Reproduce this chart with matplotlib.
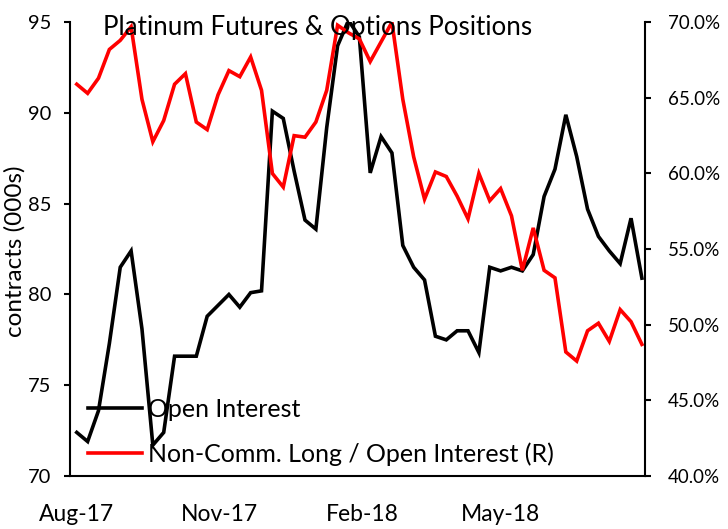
import pandas as pd
import matplotlib
matplotlib.use("Agg")
import matplotlib.pyplot as plt
import matplotlib.dates as mdates
from matplotlib.ticker import FuncFormatter

plt.rcParams['font.family'] = ['Lato', 'DejaVu Sans']

# weekly COT dates (Tuesdays)
dates = pd.date_range("2017-08-01", periods=53, freq="7D")

# open interest, contracts (000s)
open_interest = [
    72.4, 71.9, 73.6, 77.3, 81.5, 82.4, 78.1, 71.7, 72.4, 76.6,
    76.6, 76.6, 78.8, 79.4, 80.0, 79.3, 80.1, 80.2, 90.1, 89.7,
    86.8, 84.1, 83.6, 89.2, 93.7, 95.1, 94.2, 86.7, 88.7, 87.8,
    82.7, 81.5, 80.8, 77.7, 77.5, 78.0, 78.0, 76.8, 81.5, 81.3,
    81.5, 81.3, 82.2, 85.4, 86.9, 89.9, 87.6, 84.7, 83.2, 82.4,
    81.7, 84.2, 80.9,
]

# non-commercial long / open interest, %
nc_long_share = [
    65.9, 65.3, 66.3, 68.2, 68.8, 69.7, 64.9, 62.1, 63.5, 65.9,
    66.6, 63.4, 62.9, 65.2, 66.8, 66.4, 67.7, 65.5, 60.0, 59.1,
    62.5, 62.4, 63.4, 65.5, 69.8, 69.3, 68.9, 67.4, 68.7, 70.0,
    64.9, 61.1, 58.3, 60.1, 59.8, 58.5, 57.0, 60.0, 58.2, 59.0,
    57.2, 53.6, 56.4, 53.6, 53.1, 48.2, 47.6, 49.6, 50.1, 48.9,
    51.0, 50.2, 48.7,
]

fig = plt.figure(figsize=(7.28, 5.29), dpi=100)
ax = fig.add_axes([0.0962, 0.1002, 0.7898, 0.8578])
ax2 = ax.twinx()

l1, = ax.plot(dates, open_interest, color="black", lw=2.6, solid_joinstyle="miter")
l2, = ax2.plot(dates, nc_long_share, color="#ff0000", lw=2.6, solid_joinstyle="miter")

ax.set_ylim(70, 95)
ax.set_yticks([70, 75, 80, 85, 90, 95])
ax2.set_ylim(40, 70)
ax2.set_yticks([40, 45, 50, 55, 60, 65, 70])
ax2.yaxis.set_major_formatter(FuncFormatter(lambda v, p: f"{v:.1f}%"))

ax.set_xlim(pd.Timestamp("2017-07-27 16:00"), pd.Timestamp("2018-08-02"))
ax.set_xticks(pd.to_datetime(["2017-08-01", "2017-11-01", "2018-02-01", "2018-05-01"]))
ax.xaxis.set_major_formatter(mdates.DateFormatter("%b-%y"))

for a in (ax, ax2):
    a.spines["top"].set_visible(False)
    for s in a.spines.values():
        s.set_linewidth(1.5)
ax.spines["right"].set_visible(False)
ax2.spines["left"].set_visible(False)
ax2.spines["bottom"].set_visible(False)

ax.tick_params(axis="y", direction="out", length=4.5, width=1.5, labelsize=14.5, pad=9)
ax.tick_params(axis="x", length=0, labelsize=16.5, pad=20)
ax2.tick_params(axis="y", direction="out", length=4.5, width=1.5, labelsize=13.5, pad=12)

ax.set_ylabel("contracts (000s)", fontsize=17.5)
ax.yaxis.set_label_coords(-0.078, 0.495)

fig.text(0.1415, 0.934, "Platinum Futures & Options Positions",
         fontsize=18.7, ha="left", va="baseline", zorder=10)

ax2.legend([l1, l2], ["Open Interest", "Non-Comm. Long / Open Interest (R)"],
           loc="lower left", bbox_to_anchor=(0.014, 0.0), frameon=False,
           fontsize=18, handlelength=2.16, handletextpad=0.24, labelspacing=0.85,
           borderaxespad=0.0)

fig.savefig("out.png", dpi=100)
